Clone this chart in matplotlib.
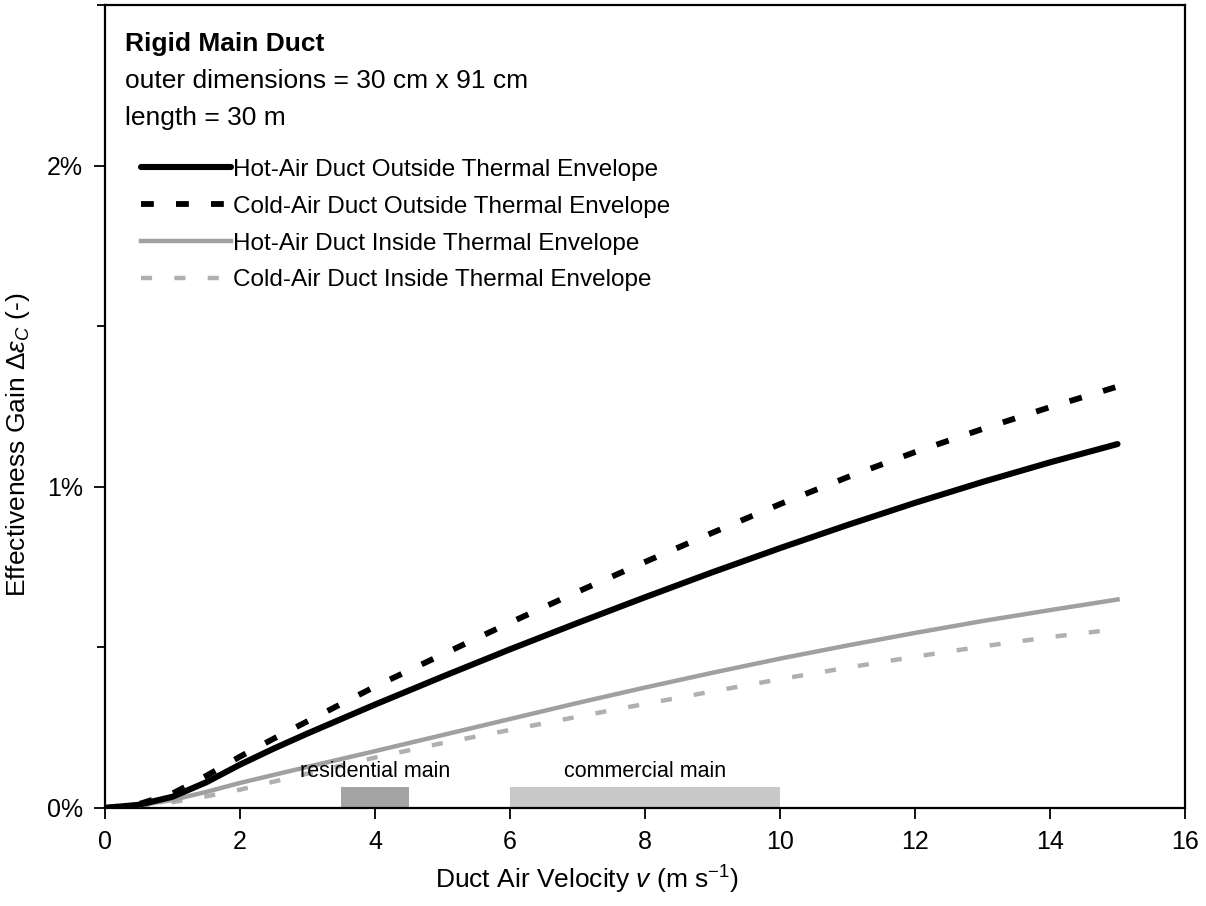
import numpy as np
import matplotlib
matplotlib.use("Agg")
import matplotlib.pyplot as plt
from matplotlib.ticker import FuncFormatter, MultipleLocator

plt.rcParams['font.family'] = ['Liberation Sans', 'DejaVu Sans']
plt.rcParams['mathtext.fontset'] = 'custom'
plt.rcParams['mathtext.rm'] = 'Liberation Sans'
plt.rcParams['mathtext.it'] = 'Liberation Sans:italic'

# duct air velocity (m/s)
velocity = [0, 0.5, 1, 1.5, 2, 2.5, 3, 4, 5, 6, 7, 8, 9, 10, 11, 12, 13, 14, 15]

# effectiveness gain, in percent
hot_outside = [0, 0.01, 0.035, 0.08, 0.135, 0.185, 0.232, 0.322, 0.409, 0.494, 0.576,
               0.656, 0.734, 0.809, 0.881, 0.950, 1.015, 1.076, 1.133]
cold_outside = [0, 0.012, 0.045, 0.10, 0.16, 0.216, 0.27, 0.378, 0.478, 0.577, 0.673,
                0.766, 0.857, 0.946, 1.03, 1.108, 1.18, 1.248, 1.312]
hot_inside = [0, 0.008, 0.025, 0.05, 0.078, 0.103, 0.128, 0.177, 0.227, 0.277, 0.327,
              0.375, 0.421, 0.465, 0.506, 0.545, 0.582, 0.616, 0.649]
cold_inside = [0, 0.005, 0.018, 0.036, 0.057, 0.082, 0.107, 0.157, 0.202, 0.243, 0.284,
               0.324, 0.363, 0.401, 0.437, 0.471, 0.503, 0.532, 0.557]

series_labels = ["Hot-Air Duct Outside Thermal Envelope",
                 "Cold-Air Duct Outside Thermal Envelope",
                 "Hot-Air Duct Inside Thermal Envelope",
                 "Cold-Air Duct Inside Thermal Envelope"]

# typical velocity ranges (m/s)
range_names = ["residential main", "commercial main"]
range_lo = [3.5, 6]
range_hi = [4.5, 10]
range_height = 0.066

fig = plt.figure(figsize=(12.06, 9.06), dpi=100)
ax = fig.add_axes([0.0871, 0.1082, 0.8955, 0.8863])

# range bars
bar_colors = ["#a4a4a4", "#c8c8c8"]
for name, lo, hi, c in zip(range_names, range_lo, range_hi, bar_colors):
    ax.bar((lo + hi) / 2, range_height, width=hi - lo, color=c, edgecolor='none', zorder=1)
    ax.text((lo + hi) / 2, range_height + 0.015, name, ha='center', va='bottom',
            fontsize=15.5, zorder=5)

ax.plot(velocity, cold_inside, color='#b0b0b0', lw=3.2, dashes=(2.5, 5), zorder=2,
        label=series_labels[3])
ax.plot(velocity, hot_inside, color='#a0a0a0', lw=3.2, zorder=3, label=series_labels[2])
ax.plot(velocity, cold_outside, color='black', lw=4.2, dashes=(2.2, 3.8), zorder=4,
        label=series_labels[1])
ax.plot(velocity, hot_outside, color='black', lw=4.4, solid_capstyle='round', zorder=4,
        label=series_labels[0])

ax.set_xlim(0, 16)
ax.set_ylim(0, 2.5)
ax.xaxis.set_major_locator(MultipleLocator(2))
ax.yaxis.set_major_locator(MultipleLocator(1))
ax.yaxis.set_minor_locator(MultipleLocator(0.5))
ax.yaxis.set_major_formatter(FuncFormatter(lambda v, p: "%d%%" % round(v)))
ax.tick_params(axis='both', which='major', direction='out', length=8, width=1.3,
               labelsize=18, pad=8)
ax.tick_params(axis='y', which='minor', direction='out', length=6, width=1.3)
for s in ax.spines.values():
    s.set_linewidth(1.6)

ax.set_xlabel(r"Duct Air Velocity $v$ (m s$^{-1}$)", fontsize=19)
ax.xaxis.set_label_coords(0.446, -0.07)
ax.set_ylabel(r"Effectiveness Gain $\mathit{\Delta}\varepsilon_C$ (-)", fontsize=19)
ax.yaxis.set_label_coords(-0.068, 0.453)

# description text
ax.text(0.0185, 0.952, "Rigid Main Duct", transform=ax.transAxes, fontsize=19,
        fontweight='bold', va='center')
ax.text(0.0185, 0.905, "outer dimensions = 30 cm x 91 cm", transform=ax.transAxes,
        fontsize=19, va='center')
ax.text(0.0185, 0.859, "length = 30 m", transform=ax.transAxes, fontsize=19, va='center')

handles, labels = ax.get_legend_handles_labels()
order = [3, 2, 1, 0]
leg = ax.legend([handles[i] for i in order], [labels[i] for i in order],
                loc='upper left', bbox_to_anchor=(0.024, 0.8205), frameon=False,
                fontsize=17.5, handlelength=3.7, handletextpad=0.1, labelspacing=0.61,
                borderaxespad=0)

fig.savefig("out.png", dpi=100)
